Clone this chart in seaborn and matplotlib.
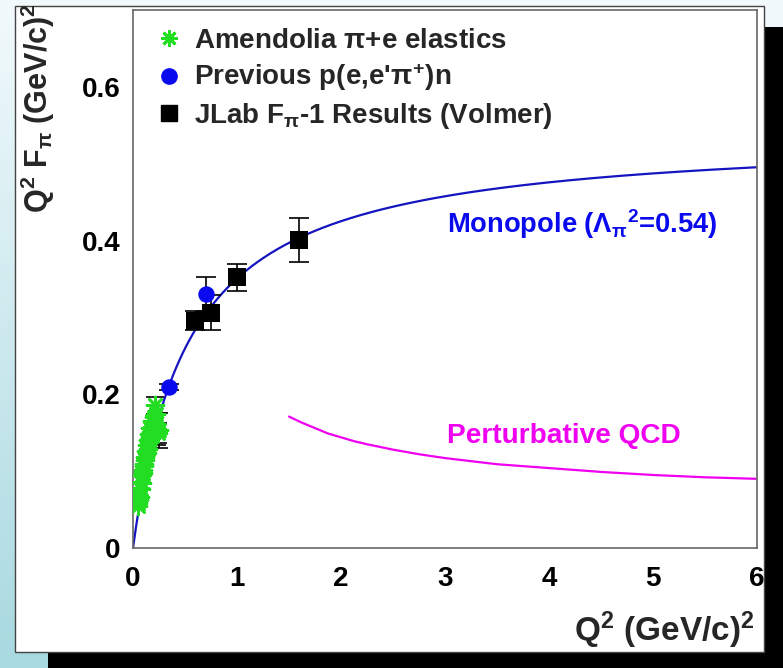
import numpy as np
import matplotlib
matplotlib.use("Agg")
import matplotlib.pyplot as plt
from matplotlib.patches import Rectangle
from matplotlib.lines import Line2D
import seaborn as sns

# ---- data -------------------------------------------------------------
# Amendolia pi+e elastic scattering: Q^2 [GeV^2], Q^2 F_pi, error (0 = hidden under marker)
amend_q2 = [0.045, 0.050, 0.055, 0.060, 0.065, 0.070, 0.075, 0.080, 0.085, 0.090,
            0.095, 0.100, 0.105, 0.110, 0.115, 0.120, 0.125, 0.130, 0.135, 0.140,
            0.145, 0.150, 0.155, 0.160, 0.165, 0.170, 0.175, 0.180, 0.185, 0.190,
            0.200, 0.210, 0.220, 0.230, 0.240, 0.250]
amend_val = [0.055, 0.058, 0.062, 0.068, 0.066, 0.078, 0.077, 0.086, 0.084, 0.095,
             0.101, 0.098, 0.109, 0.107, 0.118, 0.114, 0.126, 0.123, 0.134, 0.129,
             0.141, 0.138, 0.148, 0.145, 0.156, 0.151, 0.146, 0.165, 0.158, 0.162,
             0.170, 0.186, 0.175, 0.155, 0.150, 0.153]
amend_err = [0, 0, 0, 0, 0, 0, 0, 0, 0, 0,
             0, 0, 0, 0, 0, 0, 0, 0, 0, 0,
             0, 0, 0, 0, 0, 0, 0, 0, 0, 0,
             0, 0.011, 0, 0.021, 0.013, 0.023]

# Earlier p(e,e'pi+)n extractions
prev_q2 = [0.35, 0.70]
prev_val = [0.210, 0.331]
prev_err = [0.004, 0.022]

# JLab F_pi-1 (Volmer)
jlab_q2 = [0.60, 0.75, 1.00, 1.60]
jlab_val = [0.296, 0.306, 0.352, 0.401]
jlab_err = [0.012, 0.023, 0.018, 0.029]

# Monopole form factor parameter Lambda_pi^2 [GeV^2]
lambda2 = 0.54

# Perturbative QCD prediction
pqcd_q2 = [1.500, 1.625, 1.750, 1.875, 2.000, 2.125, 2.250, 2.500, 2.750, 3.000,
           3.250, 3.500, 4.000, 4.500, 5.000, 5.500, 6.000]
pqcd_val = [0.171, 0.163, 0.156, 0.149, 0.144, 0.139, 0.135, 0.128, 0.122, 0.117,
            0.113, 0.109, 0.104, 0.099, 0.095, 0.092, 0.090]

x_ticks = [0, 1, 2, 3, 4, 5, 6]
y_ticks = [0, 0.2, 0.4, 0.6]
x_ticklabels = ["0", "1", "2", "3", "4", "5", "6"]
y_ticklabels = ["0", "0.2", "0.4", "0.6"]

# ---- style ------------------------------------------------------------
sns.set_theme(style="white")
plt.rcParams["font.family"] = ["Liberation Sans", "DejaVu Sans"]
plt.rcParams["font.weight"] = "bold"
plt.rcParams["mathtext.fontset"] = "custom"
for key in ("rm", "it", "bf", "sf"):
    plt.rcParams[f"mathtext.{key}"] = "Liberation Sans:bold"

GREEN = "#22dd22"
BLUE = "#0a0aee"
CURVE_BLUE = "#1414c0"
MAGENTA = "#f000f0"

W, H = 783, 668
fig = plt.figure(figsize=(W / 100, H / 100), dpi=100)


def fx(px):
    return px / W


def fy(py):
    return 1 - py / H


# slide-style background: pale blue gradient, drop shadow, white panel
bg = fig.add_axes([0, 0, 1, 1], zorder=-10)
grad = np.linspace(0, 1, 256)[:, None] * np.ones((1, 16))
top = np.array([0.95, 0.98, 0.99])
bot = np.array([0.66, 0.85, 0.88])
img = top[None, None, :] * (1 - grad[..., None]) + bot[None, None, :] * grad[..., None]
bg.imshow(img, aspect="auto", extent=[0, 1, 0, 1])
bg.set_axis_off()

fig.patches.append(Rectangle((fx(48), 0), fx(W) - fx(48), fy(27), transform=fig.transFigure,
                             facecolor="black", edgecolor="none", zorder=-5))
fig.patches.append(Rectangle((fx(15), fy(652)), fx(764) - fx(15), fy(6) - fy(652),
                             transform=fig.transFigure, facecolor="white",
                             edgecolor="#444444", linewidth=1.0, zorder=-4))

ax = fig.add_axes([fx(133), fy(548), fx(757) - fx(133), fy(10) - fy(548)])
ax.set_facecolor("none")

# monopole curve
q = np.linspace(0, 6, 400)
sns.lineplot(x=q, y=q / (1 + q / lambda2), ax=ax, color=CURVE_BLUE, linewidth=1.6, zorder=2)
# pQCD curve
sns.lineplot(x=pqcd_q2, y=pqcd_val, ax=ax, color=MAGENTA, linewidth=1.6, zorder=2)

# error bars
amend_q2_a = np.array(amend_q2)
amend_val_a = np.array(amend_val)
amend_err_a = np.array(amend_err)
mask = amend_err_a > 0
ax.errorbar(amend_q2_a[mask], amend_val_a[mask], yerr=amend_err_a[mask], fmt="none",
            ecolor="black", elinewidth=1.2, capsize=6.5, capthick=1.2, zorder=3)
ax.errorbar(prev_q2, prev_val, yerr=prev_err, fmt="none", ecolor="black",
            elinewidth=1.2, capsize=7, capthick=1.2, zorder=3)
ax.errorbar(jlab_q2, jlab_val, yerr=jlab_err, fmt="none", ecolor="black",
            elinewidth=1.2, capsize=7, capthick=1.2, zorder=3)

# data markers
STAR = (8, 2, 0)
sns.scatterplot(x=amend_q2, y=amend_val, ax=ax, marker=STAR, color=GREEN, s=150,
                linewidth=1.9, zorder=4, legend=False)
sns.scatterplot(x=prev_q2, y=prev_val, ax=ax, marker="o", color=BLUE, s=140,
                edgecolor=BLUE, linewidth=0, zorder=4, legend=False)
sns.scatterplot(x=jlab_q2, y=jlab_val, ax=ax, marker="s", color="black", s=170,
                edgecolor="black", linewidth=0, zorder=5, legend=False)

# axes
ax.set_xlim(0, 6)
ax.set_ylim(0, 0.7)
ax.set_xticks(x_ticks)
ax.set_xticklabels(x_ticklabels)
ax.set_yticks(y_ticks)
ax.set_yticklabels(y_ticklabels)
ax.tick_params(axis="both", direction="in", length=11, width=1.0, color="#222222",
               labelsize=20, labelcolor="black")
ax.tick_params(axis="x", pad=13)
ax.tick_params(axis="y", pad=9)
for lab in ax.get_xticklabels() + ax.get_yticklabels():
    lab.set_fontweight("bold")
for side in ("left", "bottom", "right", "top"):
    ax.spines[side].set_visible(True)
    ax.spines[side].set_color("#666666")
    ax.spines[side].set_linewidth(1.2)
ax.set_xlabel("")
ax.set_ylabel("")

fig.text(fx(755), fy(630), r"Q$^2$ (GeV/c)$^2$", ha="right", va="center",
         fontsize=24, fontweight="bold")
fig.text(fx(38), fy(108), r"Q$^2$ F$_\pi$ (GeV/c)$^2$", ha="center", va="center",
         rotation=90, fontsize=22, fontweight="bold")

# curve labels
ax.text(3.02, 0.410, r"Monopole ($\Lambda_\pi$$^2$=0.54)", color=BLUE, fontsize=19.7,
        fontweight="bold", va="baseline", ha="left")
ax.text(3.02, 0.137, "Perturbative QCD", color=MAGENTA, fontsize=20.2,
        fontweight="bold", va="baseline", ha="left")

# legend
handles = [
    Line2D([], [], marker=STAR, ls="none", color=GREEN, markersize=12, markeredgewidth=2.0),
    Line2D([], [], marker="o", ls="none", color=BLUE, markersize=11),
    Line2D([], [], marker="s", ls="none", color="black", markersize=11),
]
labels = [r"Amendolia $\pi$+e elastics",
          r"Previous p(e,e'$\pi^{+}$)n",
          r"JLab F$_\pi$-1 Results (Volmer)"]
ax.legend(handles, labels, loc="upper left", bbox_to_anchor=(0.022, 0.987),
          frameon=False, handlelength=0.8, handletextpad=0.5, labelspacing=0.27,
          borderaxespad=0, prop={"size": 20, "weight": "bold"})

fig.savefig("out.png", dpi=100)
